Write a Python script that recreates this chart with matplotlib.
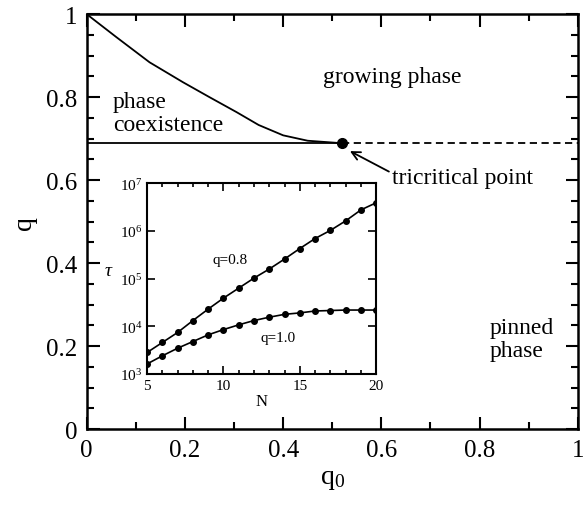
import numpy as np
import matplotlib
matplotlib.use('Agg')
import matplotlib.pyplot as plt
from matplotlib.ticker import MultipleLocator, FixedLocator, NullLocator

plt.rcParams['font.family'] = ['Liberation Serif', 'DejaVu Serif']
plt.rcParams['mathtext.fontset'] = 'custom'
plt.rcParams['mathtext.rm'] = 'Liberation Serif'
plt.rcParams['mathtext.it'] = 'Liberation Serif:italic'

# phase boundary (main panel)
q0_boundary = [0.0, 0.06, 0.128, 0.196, 0.25, 0.305, 0.35, 0.40, 0.45, 0.52]
q_boundary = [1.0, 0.945, 0.884, 0.836, 0.800, 0.764, 0.733, 0.708, 0.695, 0.689]
q_tri = 0.689
q0_tri = 0.52

# inset: relaxation time vs N
N = [5, 6, 7, 8, 9, 10, 11, 12, 13, 14, 15, 16, 17, 18, 19, 20]
logtau_q08 = [3.45, 3.66, 3.87, 4.12, 4.36, 4.59, 4.80, 5.01, 5.20, 5.41,
              5.63, 5.84, 6.01, 6.21, 6.44, 6.59]
logtau_q10 = [3.21, 3.38, 3.54, 3.68, 3.82, 3.93, 4.03, 4.12, 4.19, 4.25,
              4.28, 4.32, 4.33, 4.34, 4.34, 4.34]

fig = plt.figure(figsize=(5.86, 5.06), dpi=100)
ax = fig.add_axes([0.148, 0.150, 0.838, 0.820])

ax.plot(q0_boundary, q_boundary, color='black', lw=1.3)
ax.plot([0, q0_tri], [q_tri, q_tri], color='black', lw=1.3)
ax.plot([q0_tri, 1], [q_tri, q_tri], color='black', lw=1.3, ls=(0, (4, 2.5)))
ax.plot([q0_tri], [q_tri], 'o', color='black', ms=7)

ax.annotate('tricritical point', xy=(0.536, 0.670), xytext=(0.621, 0.607),
            fontsize=17, va='center', ha='left',
            arrowprops=dict(arrowstyle='->', color='black', lw=1.3,
                            shrinkA=0, shrinkB=0, mutation_scale=15,
                            relpos=(0, 0.7)))
ax.text(0.623, 0.851, 'growing phase', fontsize=17, ha='center', va='center')
ax.text(0.053, 0.762, 'phase\ncoexistence', fontsize=17, ha='left', va='center',
        linespacing=1.12)
ax.text(0.821, 0.217, 'pinned\nphase', fontsize=17, ha='left', va='center',
        linespacing=1.15)

ax.set_xlim(0, 1)
ax.set_ylim(0, 1)
ax.xaxis.set_major_locator(MultipleLocator(0.2))
ax.xaxis.set_minor_locator(MultipleLocator(0.1))
ax.yaxis.set_major_locator(MultipleLocator(0.2))
ax.yaxis.set_minor_locator(MultipleLocator(0.05))
ax.xaxis.set_major_formatter(plt.FuncFormatter(lambda v, p: '%g' % round(v, 2)))
ax.yaxis.set_major_formatter(plt.FuncFormatter(lambda v, p: '%g' % round(v, 2)))
ax.tick_params(which='both', direction='in', top=True, right=True,
               labelsize=18, width=1.5, pad=7)
ax.tick_params(which='major', length=9)
ax.tick_params(which='minor', length=5)
for s in ax.spines.values():
    s.set_linewidth(1.8)
ax.set_xlabel(r'q$_0$', fontsize=20, labelpad=4)
ax.set_ylabel('q', fontsize=20, labelpad=6)

# inset
ins = fig.add_axes([0.251, 0.259, 0.391, 0.377])
ins.plot(N, [10 ** v for v in logtau_q08], 'o-', color='black', ms=4, lw=1.2)
ins.plot(N, [10 ** v for v in logtau_q10], 'o-', color='black', ms=4, lw=1.2)
ins.set_yscale('log')
ins.set_xlim(5, 20)
ins.set_ylim(1e3, 1e7)
ins.xaxis.set_major_locator(FixedLocator([5, 10, 15, 20]))
ins.xaxis.set_minor_locator(MultipleLocator(1))
ins.yaxis.set_minor_locator(NullLocator())
ins.tick_params(which='both', direction='in', top=True, right=True,
                labelsize=11, width=1.2)
ins.tick_params(which='major', length=6)
ins.tick_params(which='minor', length=3)
for s in ins.spines.values():
    s.set_linewidth(1.5)
ins.text(10.4, 10 ** 5.41, 'q=0.8', fontsize=11, ha='center', va='center')
ins.text(13.6, 10 ** 3.77, 'q=1.0', fontsize=11, ha='center', va='center')
ins.set_xlabel('N', fontsize=12, labelpad=1)
ins.set_ylabel(r'$\tau$', fontsize=14, rotation=0, labelpad=8)

fig.savefig('out.png', dpi=100)
